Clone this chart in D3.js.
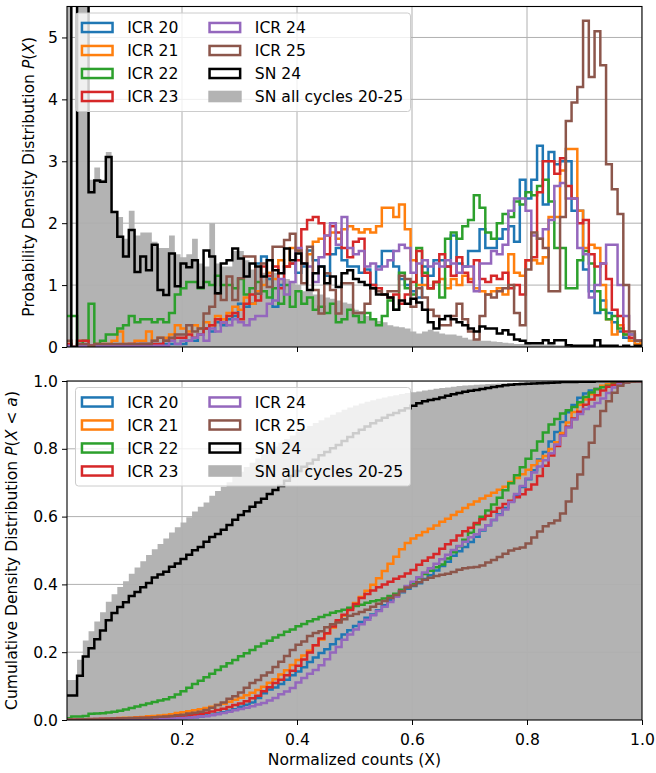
<!DOCTYPE html>
<html>
<head>
<meta charset="utf-8">
<script src="https://cdn.jsdelivr.net/npm/d3@7"></script>
<style>
body { margin: 0; background: #fff; }
svg text { font-family: "DejaVu Sans", sans-serif; }
</style>
</head>
<body>
<div id="chart"></div>
<script>
// histogram bins: width 0.01, first edge just below 0
var binStart = -0.0025, binWidth = 0.01;

// density per bin
var icr20 = [
0.02,0,0.02,0.02,0.02,0.02,0.02,0.02,0.02,0.02,
0.02,0.02,0.02,0.05,0.05,0.05,0.05,0.05,0.05,0.05,
0.05,0.1,0.1,0.2,0.3,0.25,0.4,0.35,0.45,0.5,
0.7,0.65,0.7,1.35,1.46,1.1,0.65,1.0,1.3,1.35,
1.2,1.3,1.56,1.4,1.3,1.15,1.5,1.6,1.4,1.3,
1.3,1.2,1.25,1.0,1.3,1.55,1.55,1.3,1.1,1.0,
0.9,0.8,1.3,1.15,1.4,1.4,1.3,1.8,1.35,1.3,
1.55,1.55,1.9,1.6,1.6,1.75,1.9,1.95,1.7,2.7,
2.4,2.7,3.25,2.3,3.15,2.95,3.0,3.0,2.2,2.2,
1.25,0.9,0.55,0.75,0.55,0.4,0.25,0.15,0.1,0.05,
0.1];
var icr21 = [
0.05,0,0.02,0.02,0.02,0.05,0.05,0.05,0.1,0.25,
0.05,0.05,0.1,0.1,0.25,0.1,0.15,0.15,0.2,0.35,
0.3,0.25,0.35,0.3,0.4,0.35,0.5,0.45,0.55,0.65,
0.6,0.8,0.7,0.9,1.0,1.2,1.1,1.4,1.3,1.6,
1.55,1.35,1.5,1.7,1.75,1.8,1.85,1.75,1.9,1.95,
1.9,1.85,1.9,1.85,1.95,2.25,2.25,2.1,2.3,1.9,
1.4,1.0,1.0,0.95,1.05,1.1,0.95,1.1,1.0,1.15,
1.1,0.95,0.9,0.85,0.9,0.95,0.85,1.5,1.2,1.15,
1.4,1.4,1.35,1.45,2.1,2.1,2.85,3.2,3.2,2.2,
1.6,1.65,1.6,1.0,0.45,0.2,0.35,0.2,0.1,0.05,
0.1];
var icr22 = [
0.5,0.5,0.05,0.1,0.7,0.05,0.1,0.2,0.2,0.3,
0.35,0.5,0.4,0.45,0.45,0.4,0.45,0.4,0.55,0.85,
0.95,1.05,1.05,0.95,1.05,1.0,1.15,1.0,1.0,0.95,
1.1,0.85,0.95,1.05,0.9,0.8,0.95,0.7,1.0,0.65,
0.9,0.7,0.8,0.6,0.65,0.55,0.7,0.4,0.45,0.6,
0.5,0.4,0.55,0.45,0.35,0.5,0.75,0.6,1.2,0.95,
0.85,1.6,1.2,0.95,1.05,0.8,1.75,1.85,1.75,1.95,
2.05,2.45,2.25,1.85,1.75,2.0,2.15,2.1,2.35,2.3,
2.5,2.45,2.6,2.7,2.35,1.6,1.6,0.95,0.95,1.4,
1.55,1.35,0.9,0.6,0.45,0.5,0.3,0.2,0.2,0.1,
0.1];
var icr23 = [
0.05,0,0.1,0.1,0.03,0.03,0.03,0.03,0.03,0.03,
0.03,0.05,0.05,0.05,0.05,0.05,0.05,0.1,0.1,0.15,
0.15,0.2,0.15,0.2,0.3,0.35,0.45,0.4,0.5,0.55,
0.45,0.7,0.85,0.75,1.3,1.15,1.3,0.95,1.3,1.35,
1.4,1.9,2.05,2.1,2.0,1.5,1.95,1.85,1.6,1.45,
1.7,1.75,1.2,1.0,0.95,0.85,0.8,0.85,0.7,0.85,
1.05,1.55,1.15,0.95,1.05,1.5,1.3,1.15,1.45,1.2,
1.05,1.4,1.1,1.05,1.15,1.1,1.2,0.95,1.0,0.85,
1.4,1.45,2.5,3.0,3.0,2.8,3.05,2.6,2.4,2.0,
2.05,1.5,1.3,1.35,1.1,0.6,0.5,0.25,0.15,0.1,
0.1];
var icr24 = [
0.02,0,0.02,0.02,0.02,0.02,0.02,0.02,0.02,0.02,
0.02,0.02,0.02,0.02,0.02,0.02,0.02,0.02,0.1,0.05,
0.1,0.1,0.15,0.2,0.1,0.3,0.25,0.4,0.35,0.45,
0.4,0.35,0.45,0.5,0.5,0.7,0.75,1.1,0.85,1.05,
1.6,1.35,1.3,1.05,1.45,1.8,2.0,1.65,2.1,1.6,
1.5,1.55,1.3,1.35,1.25,1.3,1.4,1.55,1.65,1.6,
1.2,1.35,1.4,1.3,1.35,1.3,1.4,1.35,1.2,1.3,
1.3,0.9,1.35,1.35,1.55,1.5,1.65,2.2,2.4,2.4,
2.2,1.8,1.75,1.9,2.05,2.6,2.65,2.4,2.4,1.6,
1.5,0.8,1.0,1.35,1.65,1.65,1.0,0.5,0.2,0.1,
0.1];
var icr25 = [
0.1,0,0.05,0.05,0.02,0.05,0.05,0.05,0.05,0.05,
0.05,0.05,0.05,0.05,0.05,0.1,0.15,0.1,0.15,0.2,
0.2,0.35,0.25,0.3,0.54,0.65,0.86,0.76,1.14,0.76,
1.11,1.46,1.46,0.86,1.35,0.97,1.62,1.62,1.73,1.83,
1.56,1.03,1.62,0.92,0.54,1.19,0.92,0.54,1.03,1.03,
0.55,0.55,0.7,0.95,0.9,0.85,0.9,0.9,1.15,1.1,
0.65,0.95,0.8,0.6,0.5,0.35,0.35,0.5,0.7,0.45,
0.25,0.12,0.5,0.85,0.8,0.9,0.95,1.0,0.55,0.35,
1.25,1.85,1.75,1.6,0.9,0.9,2.1,3.65,3.95,4.2,
5.27,4.36,5.1,4.55,2.95,2.55,2.15,1.0,0.25,0.1,
0.1];
var sn24 = [
7.4,0,6.0,5.8,2.5,2.69,2.67,3.07,2.18,1.78,
1.46,1.89,1.21,1.46,1.24,1.65,0.92,0.84,1.51,0.98,
1.35,1.29,1.4,0.96,1.56,1.46,0.87,1.35,1.4,1.59,
1.43,1.14,1.35,1.3,1.14,1.4,1.24,1.19,1.59,1.4,
1.51,1.35,0.92,1.19,1.3,1.03,1.14,0.97,1.19,1.24,
1.1,1.05,1.0,0.95,0.85,0.85,0.8,0.6,0.75,0.7,
0.78,0.72,0.6,0.4,0.3,0.45,0.5,0.45,0.4,0.35,
0.3,0.25,0.33,0.3,0.3,0.22,0.27,0.2,0.12,0.1,
0.06,0.06,0.06,0.11,0.06,0.11,0.11,0.03,0.02,0.02,
0.02,0.02,0.11,0.02,0.02,0.02,0,0.02,0,0.02,
0];
var snAll = [
11.8,0,6.0,5.7,2.7,2.9,2.7,3.15,2.2,2.1,
1.75,2.2,1.8,1.85,1.85,1.7,1.6,1.6,1.8,1.5,
1.45,1.5,1.75,1.35,1.3,2.0,1.35,1.3,1.3,1.55,
1.55,1.4,1.25,1.3,1.2,1.15,1.2,1.1,1.1,1.05,
1.0,0.9,0.9,0.85,0.85,0.8,0.78,0.75,0.72,0.7,
0.6,0.58,0.5,0.45,0.42,0.4,0.35,0.33,0.32,0.3,
0.25,0.22,0.25,0.28,0.25,0.22,0.2,0.2,0.18,0.15,
0.12,0.12,0.1,0.1,0.09,0.08,0.07,0.06,0.05,0.05,
0.05,0.04,0.04,0.04,0.04,0.03,0.03,0.03,0.03,0.03,
0.02,0.02,0.02,0.02,0.02,0.02,0.01,0.01,0.01,0.01,
0];

var stepSeries = [
  {name: "ICR 20", values: icr20, color: "#1f77b4"},
  {name: "ICR 21", values: icr21, color: "#ff7f0e"},
  {name: "ICR 22", values: icr22, color: "#2ca02c"},
  {name: "ICR 23", values: icr23, color: "#d62728"},
  {name: "ICR 24", values: icr24, color: "#9467bd"},
  {name: "ICR 25", values: icr25, color: "#8c564b"},
  {name: "SN 24",  values: sn24,  color: "#000000"}
];
var grayName = "SN all cycles 20-25", grayColor = "#b3b3b3";

var xTicks = [0.2, 0.4, 0.6, 0.8, 1.0],
    yTopTicks = [0, 1, 2, 3, 4, 5],
    yBotTicks = [0, 0.2, 0.4, 0.6, 0.8, 1.0];

var W = 656, H = 773, fs = 15.6;
var left = 67, right = 642;

var edges = d3.range(icr20.length + 1).map(function(i) { return binStart + i * binWidth; });

var x = d3.scaleLinear().domain([0, 1]).range([left, right]);
var yTop = d3.scaleLinear().domain([0, 5.5]).range([347, 6.5]);
var yBot = d3.scaleLinear().domain([0, 1]).range([720, 381]);

function stepPoints(vals) {
  var pts = [[edges[0], 0]];
  vals.forEach(function(v, i) {
    pts.push([edges[i], v]);
    pts.push([edges[i + 1], v]);
  });
  pts.push([edges[vals.length], 0]);
  return pts;
}

function cumulative(vals) {
  var tot = d3.sum(vals), run = 0;
  return vals.map(function(v) { run += v; return run / tot; });
}

var svg = d3.select("#chart").append("svg")
    .attr("width", W).attr("height", H)
    .attr("viewBox", "0 0 " + W + " " + H);

function panel(id, y, cum, yTicks, fmt, showX) {
  var y0 = y.range()[0], y1 = y.range()[1];
  var g = svg.append("g");

  svg.append("clipPath").attr("id", id)
    .append("rect")
    .attr("x", left).attr("y", y1)
    .attr("width", right - left).attr("height", y0 - y1);

  var line = d3.line()
      .x(function(d) { return x(d[0]); })
      .y(function(d) { return y(d[1]); });

  var plot = g.append("g").attr("clip-path", "url(#" + id + ")");

  // filled gray histogram of all cycles
  var grayVals = cum ? cumulative(snAll) : snAll;
  plot.append("path")
    .attr("d", line(stepPoints(grayVals)) + "Z")
    .attr("fill", grayColor);

  // grid
  plot.selectAll(".vgrid").data(xTicks).enter()
    .append("line")
    .attr("x1", function(d) { return x(d); }).attr("x2", function(d) { return x(d); })
    .attr("y1", y1).attr("y2", y0)
    .attr("stroke", "#b0b0b0").attr("stroke-width", 1);
  plot.selectAll(".hgrid").data(yTicks).enter()
    .append("line")
    .attr("x1", left).attr("x2", right)
    .attr("y1", function(d) { return y(d); }).attr("y2", function(d) { return y(d); })
    .attr("stroke", "#b0b0b0").attr("stroke-width", 1);

  stepSeries.forEach(function(s) {
    var vals = cum ? cumulative(s.values) : s.values;
    plot.append("path")
      .attr("d", line(stepPoints(vals)))
      .attr("fill", "none")
      .attr("stroke", s.color)
      .attr("stroke-width", 2.5)
      .attr("stroke-linejoin", "miter");
  });

  // axes
  var ax = g.append("g")
    .attr("transform", "translate(0," + y0 + ")")
    .call(d3.axisBottom(x).tickValues(xTicks).tickSize(5).tickSizeOuter(0).tickPadding(8.5)
      .tickFormat(showX ? d3.format(".1f") : ""));
  var ay = g.append("g")
    .attr("transform", "translate(" + left + ",0)")
    .call(d3.axisLeft(y).tickValues(yTicks).tickSize(5).tickSizeOuter(0).tickPadding(4)
      .tickFormat(fmt));
  [ax, ay].forEach(function(a) {
    a.select(".domain").remove();
    a.selectAll("text").attr("font-size", fs).attr("font-family", "DejaVu Sans").attr("fill", "#000");
    a.selectAll("line").attr("stroke-width", 1);
  });

  g.append("rect")
    .attr("x", left).attr("y", y1)
    .attr("width", right - left).attr("height", y0 - y1)
    .attr("fill", "none").attr("stroke", "#000").attr("stroke-width", 1.1);

  legend(g, y1 + 21);
  return g;
}

function legend(g, row0) {
  var items = stepSeries.map(function(s) { return {name: s.name, color: s.color, fill: false}; });
  items.push({name: grayName, color: grayColor, fill: true});

  g.append("rect")
    .attr("x", 75.5).attr("y", row0 - 14.5)
    .attr("width", 335).attr("height", 98.5)
    .attr("rx", 3)
    .attr("fill", "#fff").attr("fill-opacity", 0.8)
    .attr("stroke", "#cccccc").attr("stroke-width", 1);

  var it = g.selectAll(".leg").data(items).enter().append("g")
    .attr("transform", function(d, i) {
      var col = Math.floor(i / 4), row = i % 4;
      return "translate(" + (col ? 208.3 : 80.7) + "," + (row0 + row * 23) + ")";
    });
  it.append("rect")
    .attr("x", function(d) { return d.fill ? 0 : 1.25; })
    .attr("y", function(d) { return d.fill ? -5.8 : -4.55; })
    .attr("width", function(d) { return d.fill ? 33.4 : 30.6; })
    .attr("height", function(d) { return d.fill ? 11.6 : 9.1; })
    .attr("fill", function(d) { return d.fill ? d.color : "none"; })
    .attr("stroke", function(d) { return d.fill ? "none" : d.color; })
    .attr("stroke-width", 2.5);
  it.append("text")
    .attr("x", 46.5).attr("y", 5.6)
    .attr("font-size", fs)
    .text(function(d) { return d.name; });
}

panel("clipTop", yTop, false, yTopTicks, d3.format("d"), false);
panel("clipBot", yBot, true, yBotTicks, d3.format(".1f"), true);

// axis titles
svg.append("text")
  .attr("x", (left + right) / 2).attr("y", 765)
  .attr("text-anchor", "middle").attr("font-size", fs)
  .text("Normalized counts (X)");

var t1 = svg.append("text")
  .attr("transform", "translate(34," + ((6.5 + 347) / 2) + ") rotate(-90)")
  .attr("text-anchor", "middle").attr("font-size", fs);
t1.append("tspan").text("Probability Density Distribution ");
t1.append("tspan").attr("font-style", "italic").text("P");
t1.append("tspan").text("(");
t1.append("tspan").attr("font-style", "italic").text("X");
t1.append("tspan").text(")");

var t2 = svg.append("text")
  .attr("transform", "translate(16.5," + ((381 + 720) / 2) + ") rotate(-90)")
  .attr("text-anchor", "middle").attr("font-size", fs);
t2.append("tspan").text("Cumulative Density Distribution ");
t2.append("tspan").attr("font-style", "italic").text("P");
t2.append("tspan").text("(");
t2.append("tspan").attr("font-style", "italic").text("X");
t2.append("tspan").text(" < ");
t2.append("tspan").attr("font-style", "italic").text("a");
t2.append("tspan").text(")");
</script>
</body>
</html>
